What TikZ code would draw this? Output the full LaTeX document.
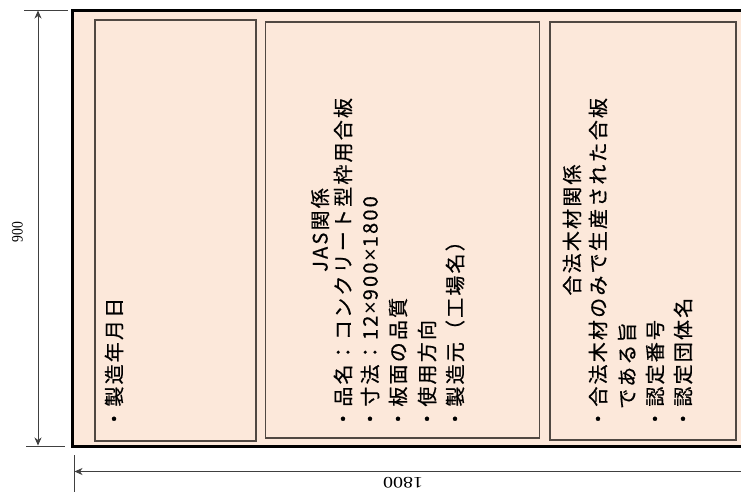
\documentclass[tikz,border=0pt]{standalone}
\usepackage{fontspec}
\setmainfont{Liberation Serif}
\newfontfamily\jp{Noto Sans CJK JP}[LetterSpace=11,FakeBold=0.6]
\newfontfamily\latx{Liberation Sans}[LetterSpace=11]
\newcommand{\xmul}{{\kern1.5pt\latx\fontsize{22}{24}\selectfont ×\kern1pt}}
\usetikzlibrary{arrows.meta}
\definecolor{peach}{RGB}{252,232,218}
\definecolor{edge}{RGB}{80,72,66}
\tikzset{dimtip/.tip={Stealth[length=8pt,width=7pt,inset=2.5pt]}}
\begin{document}
\begin{tikzpicture}[x=1pt,y=-1pt,
  box/.style={draw=edge, fill=peach, line width=1.3pt, inner sep=0pt},
  txt/.style={rotate=90, anchor=west, inner sep=0pt, font=\jp\fontsize{20}{24}\selectfont},
  ttl/.style={rotate=90, anchor=center, inner sep=0pt, font=\jp\fontsize{20}{24}\selectfont},
  dim/.style={draw=black!75, line width=0.8pt},
  dimlabel/.style={inner sep=0pt, font=\fontsize{16}{18}\selectfont}]
\useasboundingbox (0,0) rectangle (741,496);
% outer panel
\fill[peach] (72,10) rectangle (741,446);
\coordinate (o1) at (741,10);
\coordinate (o2) at (72,10);
\coordinate (o3) at (72,446);
\coordinate (o4) at (741,446);
\draw[line width=3pt, line join=miter] (o1) -- (o2) -- (o3) -- (o4);
% inner boxes
\node[box, minimum width=161, minimum height=421] (b1) at (175.5,230.5) {};
\node[box, minimum width=274, minimum height=416] (b2) at (402.5,230) {};
\node[box, minimum width=186, minimum height=418] (b3) at (643,231) {};
% box 1
\node[txt] (t11) at (114,429) {・製造年月日};
% box 2
\node[ttl] (t20) at (320,230) {JAS関係};
\node[txt] (t21) at (343,429) {・品名：コンクリート型枠用合板};
\node[txt] (t22) at (370,429) {・寸法：12\xmul 900\xmul 1800};
\node[txt] (t23) at (398,429) {・板面の品質};
\node[txt] (t24) at (427,429) {・使用方向};
\node[txt] (t25) at (455,429) {・製造元（工場名）};
% box 3
\node[ttl] (t30) at (572,230) {合法木材関係};
\node[txt] (t31) at (598,429) {・合法木材のみで生産された合板};
\node[txt] (t32) at (627,429) {\phantom{・}である旨};
\node[txt] (t33) at (655,429) {・認定番号};
\node[txt] (t34) at (683,429) {・認定団体名};
% vertical dimension
\coordinate (e1a) at (24,10);
\coordinate (e1b) at (68,10);
\coordinate (e2a) at (26,446);
\coordinate (e2b) at (65,446);
\draw[dim] (e1a) -- (e1b);
\draw[dim] (e2a) -- (e2b);
\coordinate (v1) at (38,10.5);
\coordinate (v2) at (38,445.5);
\draw[dim, dimtip-dimtip] (v1) -- (v2);
\node[dimlabel, rotate=90, xscale=0.85] (l900) at (17.5,232) {900};
% horizontal dimension
\coordinate (e3a) at (74,455);
\coordinate (e3b) at (74,492);
\draw[dim] (e3a) -- (e3b);
\coordinate (h1) at (74.5,471.5);
\coordinate (h2) at (741,471.5);
\draw[dim, dimtip-] (h1) -- (h2);
\node[dimlabel, rotate=180, xscale=1.25] (l1800) at (403,482.5) {1800};
\end{tikzpicture}
\end{document}
